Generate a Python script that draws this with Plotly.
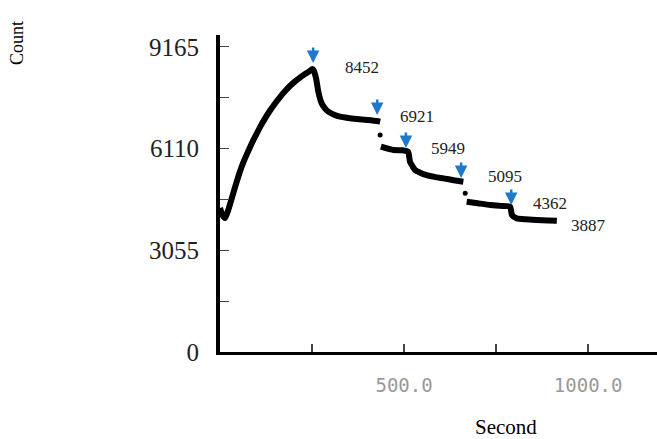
import plotly.graph_objects as go

# --- data ---
seg1_time = [0, 7, 14, 22, 32, 43, 54, 65, 77, 88, 100, 111, 122, 135, 149, 163, 177, 190, 204, 218, 231, 242, 251,
             254, 261, 267, 276, 285, 294, 310, 326, 348, 371, 400, 426, 435]
seg1_count = [4326, 4100, 4025, 4250, 4617, 5030, 5416, 5740, 6040, 6310, 6570, 6800, 7010, 7240, 7460, 7660, 7840,
              7990, 8130, 8250, 8350, 8430, 8500,
              8470, 8220, 7820, 7470, 7320, 7220, 7130, 7070, 7030, 7000, 6970, 6940, 6920]
seg2_time = [437, 471, 495, 511, 516, 523, 530, 545, 561, 583, 607, 635, 661]
seg2_count = [6168, 6068, 6060, 6017, 5717, 5580, 5467, 5380, 5317, 5260, 5216, 5160, 5116]
seg3_time = [670, 700, 734, 760, 788, 793, 806, 830, 860, 890, 915]
seg3_count = [4516, 4470, 4416, 4390, 4366, 4115, 4015, 3985, 3965, 3950, 3940]
dot_time = [435, 666]
dot_count = [6518, 4767]

label_values = ["8452", "6921", "5949", "5095", "4362", "3887"]
arrow_times = [253, 427, 505, 655, 791]
arrow_counts = [8682, 7120, 6128, 5227, 4416]

y_ticks = [0, 1527.5, 3055, 4582.5, 6110, 7637.5, 9165]
y_ticktext = ["0", "", "3055", "", "6110", "", "9165"]
x_ticks = [250, 500, 750, 1000]
x_ticktext = ["", "500.0", "", "1000.0"]

fig = go.Figure()
fig.add_trace(go.Scatter(
    x=seg1_time + [None] + seg2_time + [None] + seg3_time,
    y=seg1_count + [None] + seg2_count + [None] + seg3_count,
    mode="lines", line=dict(color="black", width=6, shape="spline", smoothing=0.5, simplify=False),
    connectgaps=False, hoverinfo="skip"))
fig.add_trace(go.Scatter(x=dot_time, y=dot_count, mode="markers",
                         marker=dict(color="black", size=5), hoverinfo="skip"))

label_pos = [(386, 8561), (535, 7060), (620, 6128), (774, 5287), (897, 4476), (1000, 3815)]
annotations = []
for txt, (lx, ly) in zip(label_values, label_pos):
    annotations.append(dict(x=lx, y=ly, xref="x", yref="y", text=txt, showarrow=False,
                            font=dict(family="Liberation Serif", size=17, color="#222")))
for ax_, ay_ in zip(arrow_times, arrow_counts):
    annotations.append(dict(x=ax_, y=ay_, xref="x", yref="y", text="", showarrow=True,
                            ax=0, ay=-17, arrowhead=2, arrowsize=1, arrowwidth=2.5,
                            arrowcolor="#1f78cc"))
annotations.append(dict(x=506, y=427, text="Second", showarrow=False,
                        font=dict(family="Liberation Serif", size=21, color="black")))
annotations.append(dict(text="Count", textangle=-90, x=17, y=43, showarrow=False,
                        font=dict(family="Liberation Serif", size=18, color="black")))

# convert pixel-positioned annotations to paper coords
W, H = 657, 439
ml, mr, mt, mb = 220, 0, 35, 87
pw, ph = W - ml - mr, H - mt - mb
for a in annotations[-2:]:
    px, py = a["x"], a["y"]
    a["x"] = (px - ml) / pw
    a["y"] = (H - mb - py) / ph
    a["xref"] = "paper"
    a["yref"] = "paper"
    a["xanchor"] = "center"
    a["yanchor"] = "middle"

fig.update_layout(
    width=W, height=H, margin=dict(l=ml, r=mr, t=mt, b=mb),
    paper_bgcolor="white", plot_bgcolor="white", showlegend=False,
    annotations=annotations,
    xaxis=dict(range=[0, 1187], showgrid=False, zeroline=False, showline=True,
               linecolor="black", linewidth=3, ticks="inside", ticklen=8, tickwidth=1.5,
               tickcolor="#444", tickvals=x_ticks, ticktext=x_ticktext,
               tickfont=dict(family="DejaVu Sans Mono", size=19, color="#999"),
               ticklabelstandoff=14),
    yaxis=dict(range=[0, 9523], showgrid=False, zeroline=False, showline=True,
               linecolor="black", linewidth=4, ticks="inside", ticklen=9, tickwidth=1,
               tickcolor="#444", tickvals=y_ticks, ticktext=y_ticktext,
               tickfont=dict(family="Liberation Serif", size=25, color="#222"),
               ticklabelstandoff=12),
)
fig.write_html("out.html", config={"displayModeBar": False},
               post_script="document.body.style.margin='0';document.body.style.overflow='hidden';")
